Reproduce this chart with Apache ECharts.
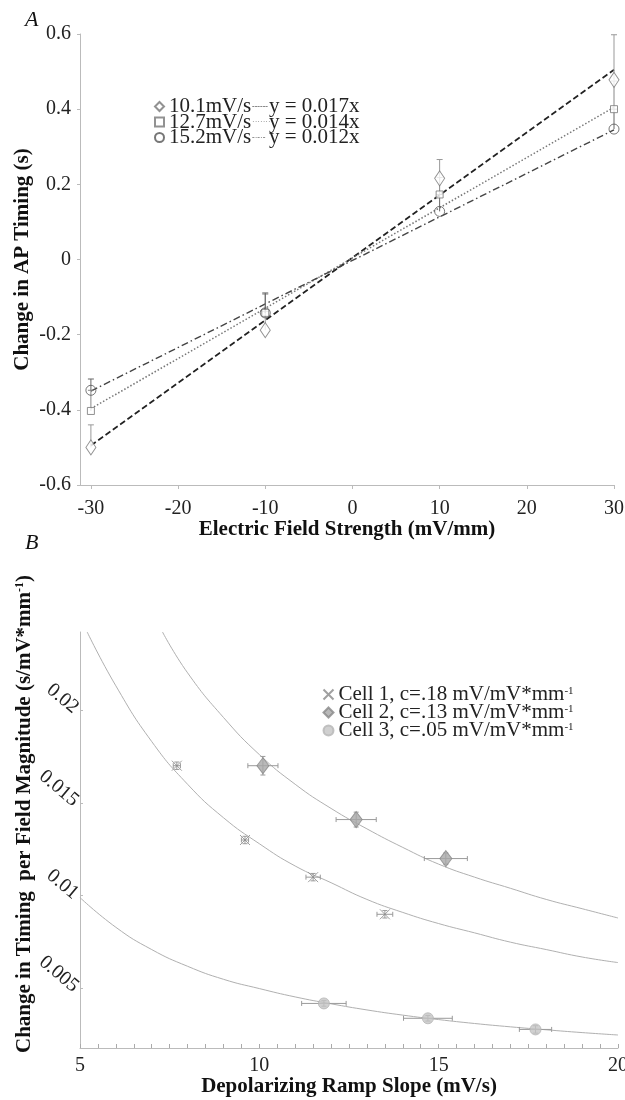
<!DOCTYPE html>
<html>
<head>
<meta charset="utf-8">
<script src="https://cdn.jsdelivr.net/npm/echarts@6/dist/echarts.min.js"></script>
<style>
html,body{margin:0;padding:0;background:#fff;}
#main{width:625px;height:1100px;}
</style>
</head>
<body>
<div id="main"></div>
<script>
// ---------- Panel A data ----------
const fieldX = [-30, -10, 10, 30];
const fieldTicks = [-30, -20, -10, 0, 10, 20, 30];
const rateNames = ['10.1mV/s', '12.7mV/s', '15.2mV/s'];
const trendLabels = ['y = 0.017x', 'y = 0.014x', 'y = 0.012x'];
const rate101 = [-0.500, -0.188, 0.216, 0.478];
const rate127 = [-0.403, -0.142, 0.173, 0.400];
const rate152 = [-0.348, -0.142, 0.128, 0.347];
const err101 = [0.06, 0.05, 0.05, 0.12];
const err127 = [0.055, 0.05, 0.045, 0.075];
const err152 = [0.03, 0.053, 0.045, 0.053];
const trendX = [-30, 30];
const trend101 = [-0.495, 0.505];
const trend127 = [-0.397, 0.405];
const trend152 = [-0.350, 0.345];

// ---------- Panel B data ----------
const cellNames = ['Cell 1, c=.18 mV/mV*mm-1', 'Cell 2, c=.13 mV/mV*mm-1', 'Cell 3, c=.05 mV/mV*mm-1'];
const perFieldTicks = [0.005, 0.01, 0.015, 0.02];
const cell1X = [7.7, 9.6, 11.5, 13.5];
const cell1Y = [0.0170, 0.0130, 0.0110, 0.0090];
const cell1XErr = [0.1, 0.1, 0.2, 0.22];
const cell1YErr = [0.0002, 0.0002, 0.0002, 0.0002];
const cell2X = [10.1, 12.7, 15.2];
const cell2Y = [0.0170, 0.0141, 0.0120];
const cell2XErr = [0.42, 0.56, 0.6];
const cell2YErr = [0.0005, 0.0004, 0.0003];
const cell3X = [11.8, 14.7, 17.7];
const cell3Y = [0.0042, 0.0034, 0.0028];
const cell3XErr = [0.62, 0.68, 0.45];
const cell3YErr = [0.00015, 0.00015, 0.0002];
const fit1X = [5.2, 6, 7, 8, 9, 10, 11, 12, 13, 14, 15, 16, 17, 18, 19, 20];
const fit1Y = [0.0242, 0.0213, 0.0183, 0.0160, 0.0142, 0.0128, 0.0116, 0.0107, 0.0098, 0.0091, 0.0085, 0.0080, 0.0075, 0.0071, 0.0067, 0.0064];
const fit2X = [7.3, 8, 9, 10, 11, 12, 13, 14, 15, 16, 17, 18, 19, 20];
const fit2Y = [0.0242, 0.0220, 0.0196, 0.0176, 0.0160, 0.0147, 0.0136, 0.0126, 0.0117, 0.0110, 0.0104, 0.0098, 0.0093, 0.0088];
const fit3X = [5, 6, 7, 8, 9, 10, 11, 12, 13, 14, 15, 16, 17, 18, 19, 20];
const fit3Y = [0.0099, 0.0083, 0.0071, 0.0062, 0.0055, 0.0050, 0.00455, 0.00418, 0.00385, 0.00357, 0.00333, 0.00312, 0.00294, 0.00278, 0.00263, 0.0025];

const FONT = 'Liberation Serif';
const pairs = (xs, ys) => xs.map((x, i) => [x, ys[i]]);
const triples = (xs, ys, es) => xs.map((x, i) => [x, ys[i], es[i]]);
const quads = (xs, ys, ex, ey) => xs.map((x, i) => [x, ys[i], ex[i], ey[i]]);

function upErrRender(color) {
  return function (params, api) {
    const x = api.value(0), y = api.value(1), e = api.value(2);
    const p0 = api.coord([x, y]);
    const p1 = api.coord([x, y + e]);
    const st = { stroke: color, lineWidth: 1 };
    return { type: 'group', children: [
      { type: 'line', shape: { x1: p0[0], y1: p0[1], x2: p1[0], y2: p1[1] }, style: st },
      { type: 'line', shape: { x1: p1[0] - 3, y1: p1[1], x2: p1[0] + 3, y2: p1[1] }, style: st }
    ]};
  };
}
function xyErrRender(params, api) {
  const x = api.value(0), y = api.value(1), ex = api.value(2), ey = api.value(3);
  const l = api.coord([x - ex, y]), r = api.coord([x + ex, y]);
  const t = api.coord([x, y + ey]), b = api.coord([x, y - ey]);
  const st = { stroke: '#9a9a9a', lineWidth: 1 };
  return { type: 'group', children: [
    { type: 'line', shape: { x1: l[0], y1: l[1], x2: r[0], y2: r[1] }, style: st },
    { type: 'line', shape: { x1: l[0], y1: l[1] - 2.5, x2: l[0], y2: l[1] + 2.5 }, style: st },
    { type: 'line', shape: { x1: r[0], y1: r[1] - 2.5, x2: r[0], y2: r[1] + 2.5 }, style: st },
    { type: 'line', shape: { x1: t[0], y1: t[1], x2: b[0], y2: b[1] }, style: st },
    { type: 'line', shape: { x1: t[0] - 2.5, y1: t[1], x2: t[0] + 2.5, y2: t[1] }, style: st },
    { type: 'line', shape: { x1: b[0] - 2.5, y1: b[1], x2: b[0] + 2.5, y2: b[1] }, style: st }
  ]};
}

const lineStyles = [
  { color: '#222', width: 1.7, type: [6, 3] },
  { color: '#777', width: 1.5, type: [1.5, 2] },
  { color: '#444', width: 1.4, type: [7, 3, 1.5, 3] }
];
const dashText = ['------', '\u00b7\u00b7\u00b7\u00b7\u00b7\u00b7\u00b7\u00b7', '-\u00b7-\u00b7-'];

const axisLabelA = { fontFamily: FONT, fontSize: 20, color: '#222' };
const titleStyle = { fontFamily: FONT, fontSize: 21, fontWeight: 'bold', color: '#111' };

const option = {
  animation: false,
  backgroundColor: '#fff',
  title: [
    { text: 'A', left: 20, top: 4, textStyle: { fontFamily: FONT, fontStyle: 'italic', fontWeight: 'normal', fontSize: 22, color: '#111' } },
    { text: 'B', left: 20, top: 527, textStyle: { fontFamily: FONT, fontStyle: 'italic', fontWeight: 'normal', fontSize: 22, color: '#111' } }
  ],
  legend: [
    {
      orient: 'vertical', left: 149, top: 91, itemWidth: 9, itemHeight: 9, itemGap: -5.5,
      selectedMode: false,
      data: rateNames,
      formatter: function (name) {
        const i = rateNames.indexOf(name);
        return '{n|' + name + '}{d' + i + '|' + dashText[i] + '}{t|' + trendLabels[i] + '}';
      },
      textStyle: {
        fontFamily: FONT, fontSize: 21, color: '#222', lineHeight: 15.5,
        rich: {
          n: { fontFamily: FONT, fontSize: 21, color: '#222', lineHeight: 15.5, width: 83 },
          t: { fontFamily: FONT, fontSize: 21, color: '#222', lineHeight: 15.5 },
          d0: { fontFamily: FONT, fontSize: 8, color: '#444', width: 17, lineHeight: 15.5 },
          d1: { fontFamily: FONT, fontSize: 8, color: '#777', width: 17, lineHeight: 15.5 },
          d2: { fontFamily: FONT, fontSize: 8, color: '#555', width: 17, lineHeight: 15.5 }
        }
      }
    },
    {
      orient: 'vertical', left: 316, top: 679, itemWidth: 10, itemHeight: 10, itemGap: -3,
      selectedMode: false,
      data: cellNames,
      formatter: function (name) {
        return '{t|' + name.replace(/-1$/, '') + '}{s|-1}';
      },
      textStyle: {
        fontFamily: FONT, fontSize: 21, color: '#222', lineHeight: 17.5,
        rich: {
          t: { fontFamily: FONT, fontSize: 21, color: '#222', lineHeight: 17.5 },
          s: { fontFamily: FONT, fontSize: 11, color: '#222', lineHeight: 9, verticalAlign: 'top' }
        }
      }
    }
  ],
  grid: [
    { left: 80, top: 34, width: 534, height: 451, outerBoundsMode: 'none', containLabel: false },
    { left: 80, top: 632, width: 538, height: 416, outerBoundsMode: 'none', containLabel: false }
  ],
  xAxis: [
    {
      gridIndex: 0, type: 'value', min: -31.25, max: 30,
      axisLine: { show: true, onZero: false, lineStyle: { color: '#bbb' } },
      axisTick: { show: true, length: 4, customValues: fieldTicks, lineStyle: { color: '#bbb' } },
      axisLabel: Object.assign({ customValues: fieldTicks, margin: 14 }, axisLabelA),
      splitLine: { show: false },
      name: 'Electric Field Strength (mV/mm)', nameLocation: 'middle', nameGap: 34, nameMoveOverlap: false,
      nameTextStyle: titleStyle
    },
    {
      gridIndex: 1, type: 'value', min: 5, max: 20, interval: 5,
      axisLine: { show: true, onZero: false, lineStyle: { color: '#bbb' } },
      axisTick: { show: true, inside: true, length: 4, lineStyle: { color: '#aaa' } },
      minorTick: { show: true, splitNumber: 10, length: 4, lineStyle: { color: '#aaa' } },
      axisLabel: Object.assign({ margin: 8 }, axisLabelA),
      splitLine: { show: false },
      name: 'Depolarizing Ramp Slope (mV/s)', nameLocation: 'middle', nameGap: 28, nameMoveOverlap: false,
      nameTextStyle: titleStyle
    }
  ],
  yAxis: [
    {
      gridIndex: 0, type: 'value', min: -0.6, max: 0.6, interval: 0.2,
      axisLine: { show: true, onZero: false, lineStyle: { color: '#bbb' } },
      axisTick: { show: true, length: 3, lineStyle: { color: '#bbb' } },
      axisLabel: Object.assign({ margin: 9 }, axisLabelA),
      splitLine: { show: false },
      name: 'Change in AP Timing (s)', nameLocation: 'middle', nameGap: 47, nameMoveOverlap: false,
      nameTextStyle: titleStyle
    },
    {
      gridIndex: 1, type: 'value', min: 0.0018, max: 0.0242,
      axisLine: { show: true, onZero: false, lineStyle: { color: '#bbb' } },
      axisTick: { show: true, inside: true, length: 3, customValues: perFieldTicks, lineStyle: { color: '#bbb' } },
      axisLabel: Object.assign({ customValues: perFieldTicks, margin: 4, rotate: -40 }, axisLabelA),
      splitLine: { show: false },
      name: '{b|Change in Timing  per Field Magnitude (s/mV*mm}{s|-1}{b|)}',
      nameLocation: 'middle', nameGap: 44, nameMoveOverlap: false,
      nameTextStyle: {
        padding: [0, 0, 0, 52],
        rich: {
          b: { fontFamily: FONT, fontSize: 21, fontWeight: 'bold', color: '#111', lineHeight: 22 },
          s: { fontFamily: FONT, fontSize: 12, fontWeight: 'bold', color: '#111', lineHeight: 10, verticalAlign: 'top' }
        }
      }
    }
  ],
  series: [
    // Panel A trend lines
    { type: 'line', name: 'trend101', xAxisIndex: 0, yAxisIndex: 0, data: pairs(trendX, trend101), symbol: 'none', lineStyle: lineStyles[0], z: 2 },
    { type: 'line', name: 'trend127', xAxisIndex: 0, yAxisIndex: 0, data: pairs(trendX, trend127), symbol: 'none', lineStyle: lineStyles[1], z: 2 },
    { type: 'line', name: 'trend152', xAxisIndex: 0, yAxisIndex: 0, data: pairs(trendX, trend152), symbol: 'none', lineStyle: lineStyles[2], z: 2 },
    // Panel A error bars
    { type: 'custom', name: 'err101', xAxisIndex: 0, yAxisIndex: 0, data: triples(fieldX, rate101, err101), renderItem: upErrRender('#999'), z: 3 },
    { type: 'custom', name: 'err127', xAxisIndex: 0, yAxisIndex: 0, data: triples(fieldX, rate127, err127), renderItem: upErrRender('#888'), z: 3 },
    { type: 'custom', name: 'err152', xAxisIndex: 0, yAxisIndex: 0, data: triples(fieldX, rate152, err152), renderItem: upErrRender('#666'), z: 3 },
    // Panel A markers
    { type: 'scatter', name: rateNames[0], xAxisIndex: 0, yAxisIndex: 0, data: pairs(fieldX, rate101), symbol: 'diamond', symbolSize: [10, 15],
      itemStyle: { color: '#fff', borderColor: '#777', borderWidth: 1 }, z: 5 },
    { type: 'scatter', name: rateNames[1], xAxisIndex: 0, yAxisIndex: 0, data: pairs(fieldX, rate127), symbol: 'rect', symbolSize: 7,
      itemStyle: { color: '#fff', borderColor: '#777', borderWidth: 1 }, z: 5 },
    { type: 'scatter', name: rateNames[2], xAxisIndex: 0, yAxisIndex: 0, data: pairs(fieldX, rate152), symbol: 'circle', symbolSize: 10,
      itemStyle: { color: 'rgba(255,255,255,0)', borderColor: '#555', borderWidth: 1 }, z: 5 },
    // Panel B fit curves
    { type: 'line', name: 'fit1', xAxisIndex: 1, yAxisIndex: 1, data: pairs(fit1X, fit1Y), symbol: 'none', smooth: 0.5, lineStyle: { color: '#b0b0b0', width: 1 }, z: 2 },
    { type: 'line', name: 'fit2', xAxisIndex: 1, yAxisIndex: 1, data: pairs(fit2X, fit2Y), symbol: 'none', smooth: 0.5, lineStyle: { color: '#b0b0b0', width: 1 }, z: 2 },
    { type: 'line', name: 'fit3', xAxisIndex: 1, yAxisIndex: 1, data: pairs(fit3X, fit3Y), symbol: 'none', smooth: 0.5, lineStyle: { color: '#b0b0b0', width: 1 }, z: 2 },
    // Panel B error bars
    { type: 'custom', name: 'errc1', xAxisIndex: 1, yAxisIndex: 1, data: quads(cell1X, cell1Y, cell1XErr, cell1YErr), renderItem: xyErrRender, z: 3 },
    { type: 'custom', name: 'errc2', xAxisIndex: 1, yAxisIndex: 1, data: quads(cell2X, cell2Y, cell2XErr, cell2YErr), renderItem: xyErrRender, z: 3 },
    { type: 'custom', name: 'errc3', xAxisIndex: 1, yAxisIndex: 1, data: quads(cell3X, cell3Y, cell3XErr, cell3YErr), renderItem: xyErrRender, z: 3 },
    // Panel B markers
    { type: 'scatter', name: cellNames[0], xAxisIndex: 1, yAxisIndex: 1, data: pairs(cell1X, cell1Y), symbol: 'path://M0,0L10,10M0,10L10,0', symbolSize: 10,
      itemStyle: { color: 'none', borderColor: '#888', borderWidth: 1 }, z: 5 },
    { type: 'scatter', name: cellNames[1], xAxisIndex: 1, yAxisIndex: 1, data: pairs(cell2X, cell2Y), symbol: 'diamond', symbolSize: [12, 16],
      itemStyle: { color: '#a8a8a8', borderColor: '#888', borderWidth: 1 }, z: 5 },
    { type: 'scatter', name: cellNames[2], xAxisIndex: 1, yAxisIndex: 1, data: pairs(cell3X, cell3Y), symbol: 'circle', symbolSize: 11,
      itemStyle: { color: '#c4c4c4', borderColor: '#b5b5b5', borderWidth: 1 }, z: 5 }
  ]
};

const chart = echarts.init(document.getElementById('main'), null, { renderer: 'canvas' });
chart.setOption(option);
</script>
</body>
</html>
